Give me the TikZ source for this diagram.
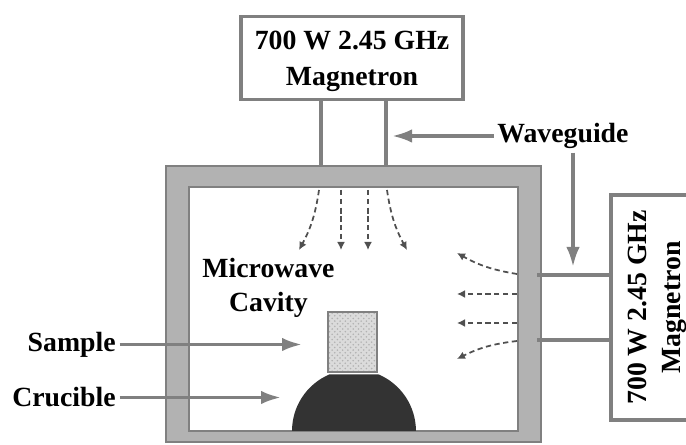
\documentclass[tikz,border=0pt]{standalone}
\usepackage{fontspec}
\setmainfont{Liberation Serif}
\usetikzlibrary{arrows.meta,patterns}
\definecolor{wallgray}{HTML}{B2B2B2}
\definecolor{linegray}{HTML}{808080}
\definecolor{wavegray}{HTML}{505050}
\definecolor{cruciblegray}{HTML}{333333}
\newcommand{\magtext}{\rule{0pt}{14.7pt}700 W 2.45 GHz\\Magnetron}
\tikzset{
  magnetron/.style={draw=linegray,line width=0.07cm,fill=white,outer sep=0,align=center,minimum height=1.66cm,font=\bfseries\fontsize{15.8}{20.5}\selectfont},
  label/.style={font=\bfseries\fontsize{15.8}{19.5}\selectfont,inner sep=0.07cm,align=center},
  waveguide/.style={draw=linegray,line width=0.07cm},
  pointer/.style={draw=linegray,line width=0.07cm,-{Latex[length=0.4cm,width=0.27cm]}},
  wave/.style={draw=wavegray,densely dashed,line width=0.035cm,-{Latex[length=0.16cm,width=0.16cm]}}
}
\begin{document}
\begin{tikzpicture}
\useasboundingbox (0,0) rectangle (13.72,8.9);
\clip (0,0) rectangle (13.72,8.9);
% Draw cavity wall
\node[draw=linegray,line width=0.04cm,fill=wallgray,outer sep=0,minimum width=7.5cm,minimum height=5.52cm] (wall) at (7.07,2.82) {};
\node[draw=linegray,line width=0.04cm,fill=white,outer sep=0,minimum width=6.58cm,minimum height=4.88cm] (cavity) at (7.07,2.72) {};
% Draw magnetrons
\node[magnetron,minimum width=4.44cm] (magtop) at (7.04,7.74) {\magtext};
\node[magnetron,minimum width=4.5cm,minimum height=1.7cm,rotate=90,font=\bfseries\fontsize{15.8}{19}\selectfont] (magright) at (13.07,2.75) {\magtext};
% Draw waveguides
\coordinate (wga) at (6.42,5.6);
\coordinate (wgb) at (7.72,5.6);
\coordinate (wgc) at (10.74,3.4);
\coordinate (wgd) at (10.74,2.1);
\draw[waveguide] (wga |- wall.north) -- (wga |- magtop.south);
\draw[waveguide] (wgb |- wall.north) -- (wgb |- magtop.south);
\draw[waveguide] (wgc) -- (wgc -| magright.north);
\draw[waveguide] (wgd) -- (wgd -| magright.north);
% Draw crucible and sample
\fill[cruciblegray] (7.07,0.28) ++(180:1.23) arc[start angle=180,end angle=113,radius=1.23] -- ++(0.98,0) arc[start angle=67,end angle=0,radius=1.23] -- cycle;
\node[draw=linegray,line width=0.03cm,preaction={fill=gray!28},pattern=crosshatch dots,pattern color=gray!60,outer sep=0,minimum width=0.98cm,minimum height=1.2cm] (samplebox) at (7.05,2.06) {};
% Draw microwaves from the top
\foreach \name/\xa/\xb/\side/\amount in {ta/6.38/5.98/left/10,tb/6.82/6.82/left/0,tc/7.36/7.36/left/0,td/7.74/8.14/right/10}
{
\coordinate (\name s) at (\xa,5.1);
\coordinate (\name e) at (\xb,3.9);
\draw[wave] (\name s) to[bend \side=\amount] (\name e);
}
% Draw microwaves from the right
\foreach \name/\ya/\yb/\side/\amount in {ra/3.42/3.84/left/10,rb/3.02/3.02/left/0,rc/2.44/2.44/left/0,rd/2.08/1.72/right/10}
{
\coordinate (\name s) at (10.34,\ya);
\coordinate (\name e) at (9.14,\yb);
\draw[wave] (\name s) to[bend \side=\amount] (\name e);
}
% Draw labels
\node[label] (cavitylabel) at (5.37,3.14) {Microwave\\Cavity};
\node[label,anchor=east] (samplelabel) at (2.39,2.01) {Sample};
\node[label,anchor=east] (cruciblelabel) at (2.39,0.95) {Crucible};
\node[label,anchor=west] (wglabel) at (9.87,6.18) {Waveguide};
% Draw pointers
\coordinate (samplept) at (6.04,2.01);
\coordinate (cruciblept) at (5.62,0.95);
\coordinate (wgpta) at (7.84,6.18);
\coordinate (wgptb) at (11.46,3.56);
\draw[pointer] (samplelabel.east) -- (samplept);
\draw[pointer] (cruciblelabel.east) -- (cruciblept);
\draw[pointer] (wglabel.west) -- (wgpta);
\draw[pointer] (wgptb |- wglabel.south) -- (wgptb);
\end{tikzpicture}
\end{document}
